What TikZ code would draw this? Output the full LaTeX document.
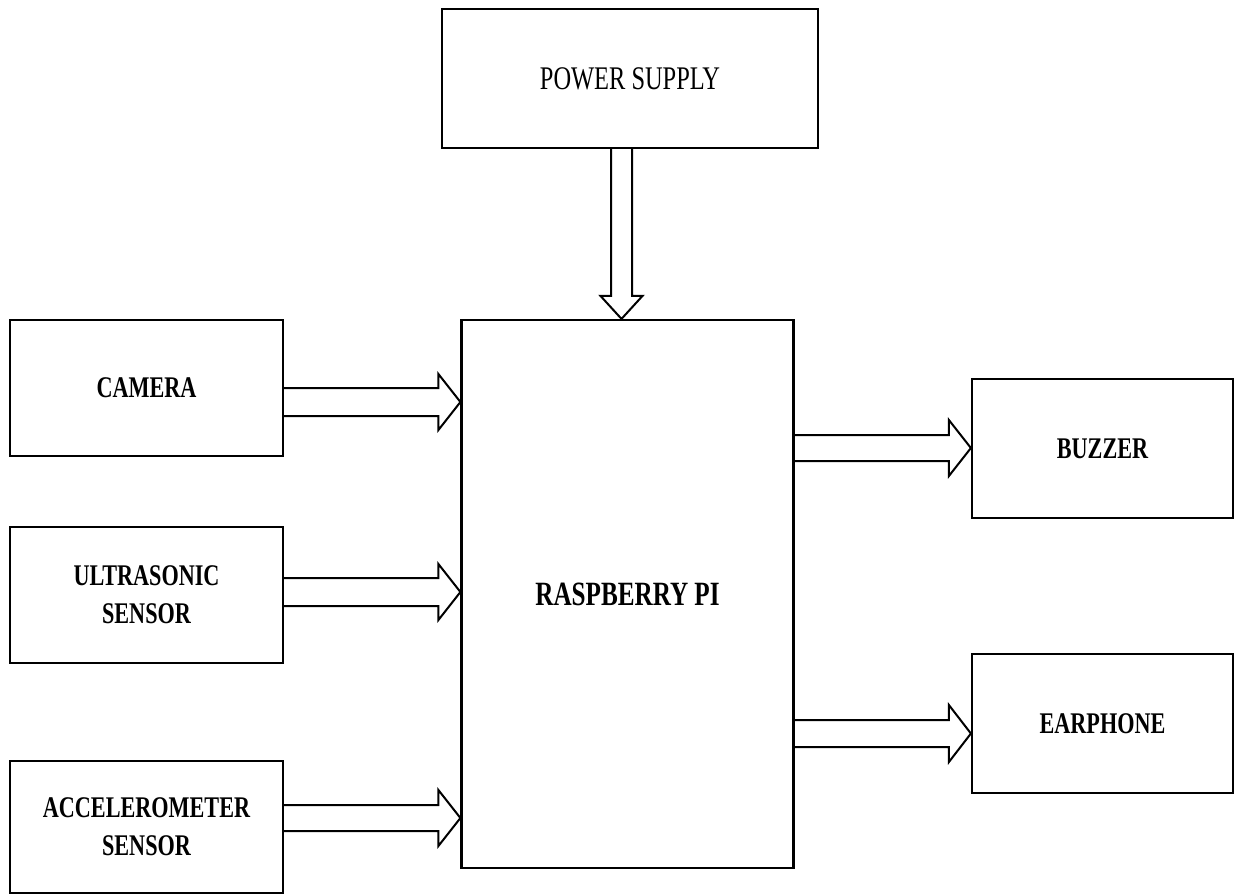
\documentclass[tikz,border=0pt]{standalone}
\usepackage{fontspec}
\newfontfamily\lblfont[FakeStretch=0.74]{Liberation Serif}
\usetikzlibrary{calc}
\tikzset{
  blk/.style={draw, line width=2.2pt, inner sep=0pt, align=center,
    font=\lblfont\bfseries\fontsize{30}{38}\selectfont},
  blockarrow/.style={draw, line width=2pt, line join=miter},
}
\newcommand{\hblock}[5]{% src, dst, center y, shaft half, head half
  \draw[blockarrow] let \p1=(#1.east), \p2=(#2.west) in
    (\x1,#3+#4) -- (\x2-22pt,#3+#4) -- (\x2-22pt,#3+#5) -- (\x2,#3)
    -- (\x2-22pt,#3-#5) -- (\x2-22pt,#3-#4) -- (\x1,#3-#4);}
\begin{document}
\begin{tikzpicture}[x=1pt,y=1pt]
\useasboundingbox (0,0) rectangle (1236,-895);
\node[blk, minimum width=376pt, minimum height=139pt,
  font=\lblfont\fontsize{33}{38}\selectfont] (power) at (630,-78.5) {POWER SUPPLY};
\node[blk, minimum width=332pt, minimum height=548pt,
  font=\lblfont\bfseries\fontsize{34}{40}\selectfont] (rpi) at (627.5,-594) {RASPBERRY PI};
\node[blk, minimum width=273pt, minimum height=136pt] (cam) at (146.5,-388) {CAMERA};
\node[blk, minimum width=273pt, minimum height=136pt] (ultra) at (146.5,-595) {ULTRASONIC\\SENSOR};
\node[blk, minimum width=273pt, minimum height=132pt] (accel) at (146.5,-827) {ACCELEROMETER\\SENSOR};
\node[blk, minimum width=261pt, minimum height=139pt] (buzz) at (1102.5,-448.5) {BUZZER};
\node[blk, minimum width=261pt, minimum height=139pt] (ear) at (1102.5,-723.5) {EARPHONE};
% inputs
\hblock{cam}{rpi}{-402pt}{14pt}{28pt}
\hblock{ultra}{rpi}{-592pt}{14pt}{28pt}
\hblock{accel}{rpi}{-818pt}{13pt}{28pt}
% outputs
\hblock{rpi}{buzz}{-448pt}{13pt}{28pt}
\hblock{rpi}{ear}{-733.5pt}{13.5pt}{28.5pt}
% power
\draw[blockarrow] let \p1=(power.south), \p2=(rpi.north) in
  (621.5pt-10.5pt,\y1) -- (621.5pt-10.5pt,\y2+23pt) -- (621.5pt-21pt,\y2+23pt)
  -- (621.5pt,\y2) -- (621.5pt+21pt,\y2+23pt) -- (621.5pt+10.5pt,\y2+23pt)
  -- (621.5pt+10.5pt,\y1);
\end{tikzpicture}
\end{document}
